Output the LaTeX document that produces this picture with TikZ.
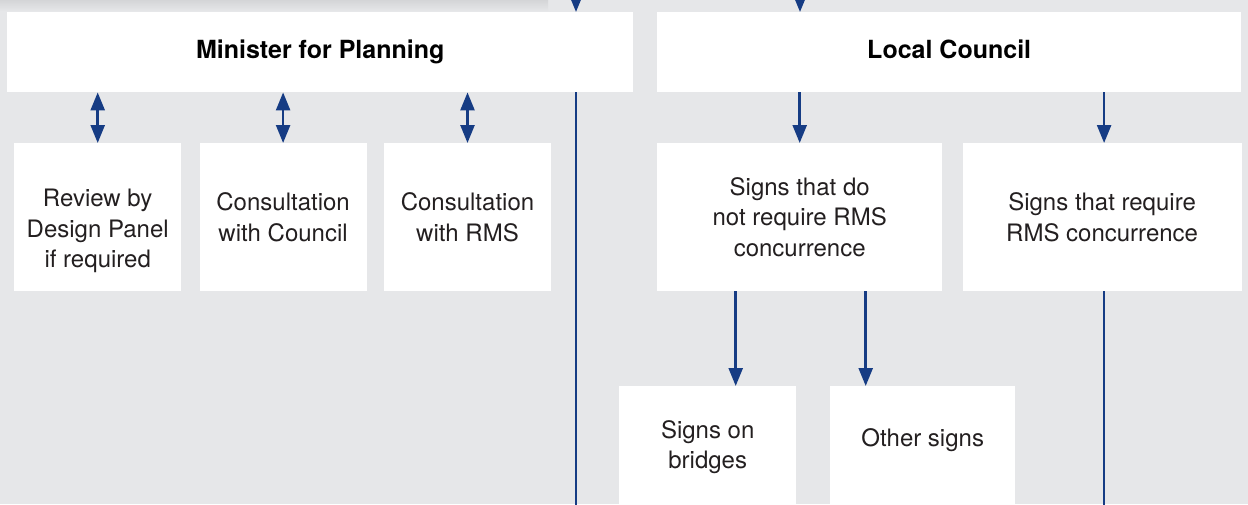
\documentclass[tikz,border=0pt]{standalone}
\usepackage{fontspec}
\setmainfont{TeX Gyre Heros}
\usepackage{xcolor}
\usepackage{tikz}
\usetikzlibrary{arrows.meta,positioning}
\definecolor{flowblue}{RGB}{22,60,132}
\definecolor{panelgray}{RGB}{230,231,233}
\definecolor{shadegray}{RGB}{212,213,215}
\definecolor{txtgray}{RGB}{35,31,32}

\begin{document}
\begin{tikzpicture}[x=1pt,y=1pt,>={Triangle[length=18pt,width=14pt]},node distance=18pt]
                \tikzset{txt/.style={text=txtgray, align=center, font=\fontsize{24}{30.5}\selectfont},
                         box/.style={txt, fill=white, inner sep=0pt, anchor=north west},
                         head/.style={box, minimum height=80pt, text=black, text height=18pt, text depth=5pt, font=\bfseries\fontsize{25}{30}\selectfont},
                         small/.style={box, minimum width=167pt, minimum height=148pt},
                         flowline/.style={draw=flowblue, line width=2.5pt},
                         flow/.style={flowline, ->}}
                \useasboundingbox (0,0) rectangle (1248,-504);
                \fill[panelgray] (0,0) rectangle (1248,-504);
                \clip (0,0) rectangle (1248,-504);
                \shade[top color=shadegray, bottom color=panelgray] (0,0) rectangle (548,-11);
                % top row
                \node[head, minimum width=626pt] (mp) at (7,-12) {Minister for Planning};
                \node[head, minimum width=584pt] (lc) at (657,-12) {Local Council};
                % minister side
                \node[small, label={[name=reviewtxt, txt, yshift=-14pt]center:{Review by\\Design Panel\\if required}}] (review) at (14,-143) {};
                \node[small, right=of review] (council) {Consultation\\with Council};
                \node[small, right=17pt of council] (rms) {Consultation\\with RMS};
                % council side
                \node[box, minimum width=285pt, minimum height=148pt] (notreq) at (657,-143) {Signs that do\\not require RMS\\concurrence};
                \node[box, minimum width=279pt, minimum height=148pt, right=20pt of notreq] (req) {Signs that require\\RMS concurrence};
                \node[box, minimum width=177pt, minimum height=122pt] (bridges) at (619,-386) {Signs on\\bridges};
                \node[box, minimum width=185pt, minimum height=122pt, label={[name=othertxt, txt, yshift=7pt]center:{Other signs}}] (other) at (830,-386) {};
                % connectors
                \coordinate (mpin) at (576,6);
                \coordinate (lcin) at (800,6);
                \coordinate (mpout) at (576,-510);
                \draw[flow] (mpin) -- (mpin |- mp.north);
                \draw[flow] (lcin) -- (lcin |- lc.north);
                \draw[flowline] (mp.south -| mpout) -- (mpout);
                \draw[flow, <->] (mp.south -| review.north) -- (review.north);
                \draw[flow, <->] (mp.south -| council.north) -- (council.north);
                \draw[flow, <->] (mp.south -| rms.north) -- (rms.north);
                \draw[flow] (lc.south -| notreq.north) -- (notreq.north);
                \draw[flow] ([xshift=2pt]lc.south -| req.north) -- ([xshift=2pt]req.north);
                \draw[flow] ([xshift=-64pt]notreq.south) -- ([xshift=-64pt]notreq.south |- bridges.north);
                \draw[flow] ([xshift=66pt]notreq.south) -- ([xshift=66pt]notreq.south |- other.north);
                \draw[flowline] ([xshift=2pt]req.south) -- ([xshift=2pt]req.south |- mpout);
\end{tikzpicture}
\end{document}
